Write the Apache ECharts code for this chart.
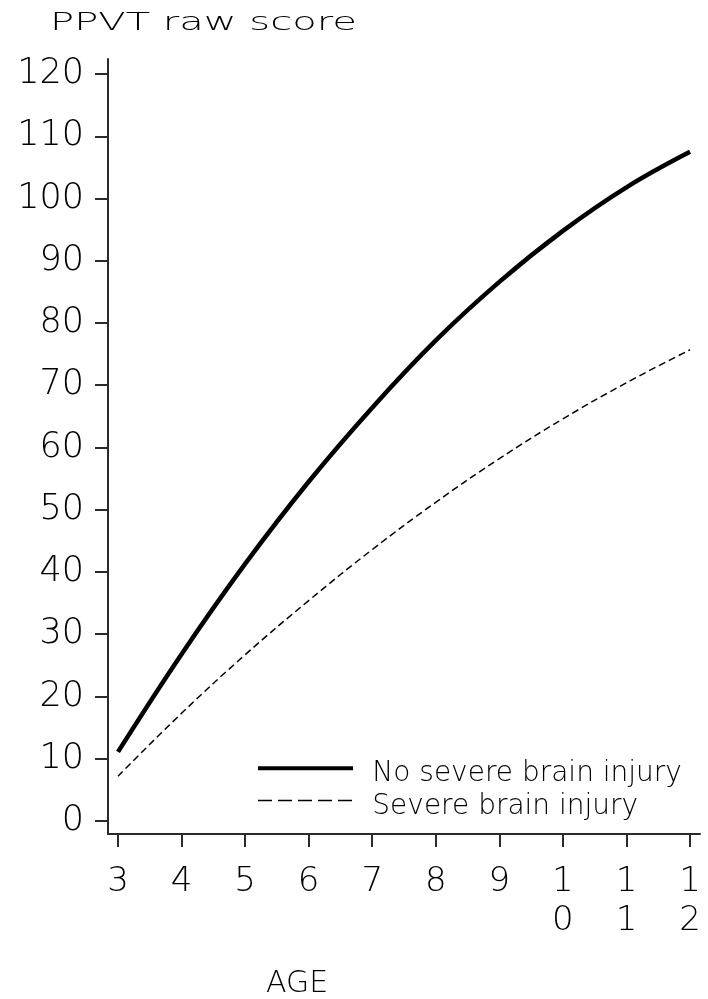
<!DOCTYPE html>
<html>
<head>
<meta charset="utf-8">
<script src="https://cdn.jsdelivr.net/npm/echarts@6/dist/echarts.min.js"></script>
<style>
  html, body { margin: 0; padding: 0; background: #fff; }
  #chart { width: 708px; height: 999px; }
</style>
</head>
<body>
<div id="chart"></div>
<script>
// Ages (x) and fitted PPVT raw scores for the two groups
const ages = [3, 4, 5, 6, 7, 8, 9, 10, 11, 12];
const noSevere = [11.1, 26.8, 41.3, 54.5, 66.4, 77.2, 86.6, 94.8, 101.8, 107.5];
const severe = [7.2, 17.3, 26.7, 35.4, 43.6, 51.2, 58.2, 64.6, 70.4, 75.7];
const yTicks = [0, 10, 20, 30, 40, 50, 60, 70, 80, 90, 100, 110, 120];
const xTicks = [3, 4, 5, 6, 7, 8, 9, 10, 11, 12];
const seriesNames = ['No severe brain injury', 'Severe brain injury'];

const FONT = '"DejaVu Sans", sans-serif';
const INK = '#000';
const AXIS = '#2a2a2a';

const pairs = (xs, ys) => xs.map((x, i) => [x, ys[i]]);

const chart = echarts.init(document.getElementById('chart'), null, { renderer: 'canvas' });

chart.setOption({
  animation: false,
  backgroundColor: '#fff',
  color: [INK, INK],
  grid: { left: 108, right: 8, top: 59, bottom: 165, containLabel: false },
  xAxis: {
    type: 'value',
    min: 2.843,
    max: 12.157,
    axisLine: { show: true, onZero: false, lineStyle: { color: AXIS, width: 2 } },
    axisTick: { show: true, length: 13, customValues: xTicks, lineStyle: { color: AXIS, width: 2 } },
    axisLabel: {
      customValues: xTicks,
      margin: 29,
      fontFamily: FONT,
      fontSize: 34,
      fontWeight: 200,
      lineHeight: 39,
      color: INK,
      verticalAlign: 'top',
      formatter: v => String(v).split('').join('\n')
    },
    splitLine: { show: false }
  },
  yAxis: {
    type: 'value',
    min: -2.09,
    max: 122.41,
    axisLine: { show: true, onZero: false, lineStyle: { color: AXIS, width: 2 } },
    axisTick: { show: true, length: 13, customValues: yTicks, lineStyle: { color: AXIS, width: 2 } },
    axisLabel: {
      customValues: yTicks,
      margin: 24,
      fontFamily: FONT,
      fontSize: 35,
      fontWeight: 200,
      color: INK
    },
    splitLine: { show: false }
  },
  legend: {
    orient: 'vertical',
    left: 251,
    top: 752,
    itemWidth: 95,
    itemHeight: 28,
    itemGap: 1,
    formatter: name => '{s| }{t|' + name + '}',
    textStyle: {
      fontFamily: FONT,
      fontSize: 28,
      fontWeight: 200,
      color: INK,
      padding: [0, 0, 0, 14],
      rich: {
        s: { fontSize: 1, height: 40 },
        t: { fontFamily: FONT, fontSize: 28, lineHeight: 28, color: INK, verticalAlign: 'bottom' }
      }
    },
    data: [
      { name: seriesNames[0], itemStyle: { opacity: 0 }, lineStyle: { color: INK, width: 4, type: 'solid' } },
      { name: seriesNames[1], itemStyle: { opacity: 0 }, lineStyle: { color: INK, width: 1.5, type: [14, 6] } }
    ]
  },
  graphic: [
    {
      type: 'text',
      x: 50,
      y: 23,
      scaleX: 1.54,
      scaleY: 0.98,
      style: {
        text: 'PPVT raw score',
        fontFamily: FONT,
        fontSize: 26,
        fontWeight: 200,
        fill: INK,
        textAlign: 'left',
        textVerticalAlign: 'middle'
      }
    },
    {
      type: 'text',
      x: 297,
      y: 984,
      style: {
        text: 'AGE',
        fontFamily: FONT,
        fontSize: 30,
        fontWeight: 200,
        fill: INK,
        textAlign: 'center',
        textVerticalAlign: 'middle'
      }
    }
  ],
  series: [
    {
      name: seriesNames[0],
      type: 'line',
      data: pairs(ages, noSevere),
      smooth: 0.4,
      symbol: 'none',
      itemStyle: { color: INK },
      lineStyle: { color: INK, width: 4.5, type: 'solid' }
    },
    {
      name: seriesNames[1],
      type: 'line',
      data: pairs(ages, severe),
      smooth: 0.4,
      symbol: 'none',
      itemStyle: { color: INK },
      lineStyle: { color: INK, width: 1.5, type: [7, 4] }
    }
  ]
});
</script>
</body>
</html>
